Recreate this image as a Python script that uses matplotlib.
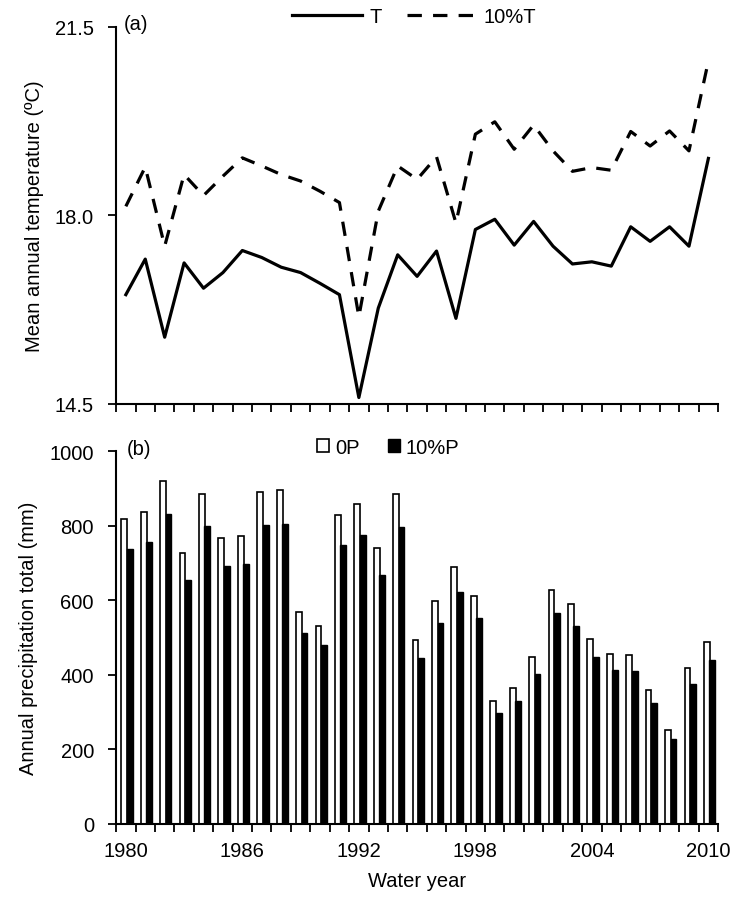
import matplotlib.pyplot as plt
import numpy as np

plt.rcParams['font.family'] = ['Liberation Sans', 'DejaVu Sans']

# water years
years = list(range(1980, 2011))

# mean annual temperature (deg C)
temp_T = [16.53, 17.19, 15.74, 17.12, 16.65, 16.94, 17.35, 17.22, 17.04, 16.94,
          16.74, 16.53, 14.62, 16.28, 17.27, 16.87, 17.34, 16.09, 17.74, 17.93,
          17.45, 17.89, 17.43, 17.10, 17.14, 17.06, 17.79, 17.52, 17.79, 17.43,
          19.06]
temp_10T = [18.17, 18.90, 17.43, 18.76, 18.37, 18.73, 19.07, 18.92, 18.76, 18.64,
            18.45, 18.24, 16.12, 18.08, 18.92, 18.67, 19.09, 17.86, 19.51, 19.74,
            19.23, 19.68, 19.20, 18.82, 18.89, 18.84, 19.56, 19.29, 19.57, 19.20,
            20.87]

# annual precipitation total (mm)
precip_0P = [819, 837, 921, 726, 886, 767, 772, 890, 895, 569,
             531, 829, 858, 740, 884, 493, 598, 688, 612, 329,
             365, 447, 628, 589, 497, 456, 454, 360, 253, 417,
             487]
precip_10P = [738, 755, 830, 654, 799, 692, 696, 802, 805, 512,
              480, 747, 774, 668, 797, 444, 540, 621, 552, 297,
              329, 402, 566, 531, 448, 412, 409, 324, 228, 375,
              440]

year_labels = ['1980', '1986', '1992', '1998', '2004', '2010']

fs = 14.5
x = np.arange(len(years))
bounds = np.arange(len(years) + 1) - 0.5

fig = plt.figure(figsize=(7.35, 9.03), dpi=100)
ax1 = fig.add_axes([0.158, 0.5515, 0.819, 0.4175])
ax2 = fig.add_axes([0.158, 0.0864, 0.819, 0.4130])

# (a) temperature
ax1.plot(x, temp_T, color='black', lw=2.3, label='T')
ax1.plot(x, temp_10T, color='black', lw=2.3, ls=(0, (4.5, 3.5)), label='10%T')
ax1.set_xlim(-0.5, len(years) - 0.5)
ax1.set_ylim(14.5, 21.5)
ax1.set_yticks([14.5, 18.0, 21.5])
ax1.set_yticklabels(['14.5', '18.0', '21.5'])
ax1.set_xticks(bounds)
ax1.set_xticklabels([])
ax1.set_ylabel('Mean annual temperature (ºC)', fontsize=fs, labelpad=8)
ax1.text(0.012, 1.01, '(a)', transform=ax1.transAxes, fontsize=fs, va='center')
ax1.legend(loc='center', bbox_to_anchor=(0.495, 1.027), ncol=2, frameon=False,
           fontsize=fs, handlelength=3.45, handletextpad=0.35, columnspacing=1.25)

# (b) precipitation
w = 0.3
ax2.bar(x - 0.08, precip_0P, width=w, color='white', edgecolor='black', lw=1.2, label='0P')
ax2.bar(x + 0.2, precip_10P, width=w, color='black', edgecolor='black', lw=1.0, label='10%P')
ax2.set_xlim(-0.5, len(years) - 0.5)
ax2.set_ylim(0, 1000)
ax2.set_yticks(range(0, 1001, 200))
ax2.set_xticks([years.index(int(y)) for y in year_labels])
ax2.set_xticklabels(year_labels)
ax2.set_xticks(bounds, minor=True)
ax2.tick_params(axis='x', which='major', length=0, pad=12)
ax2.tick_params(axis='x', which='minor', direction='out', length=6, width=1.3)
ax2.set_xlabel('Water year', fontsize=fs, labelpad=8)
ax2.set_ylabel('Annual precipitation total (mm)', fontsize=fs, labelpad=8)
ax2.text(0.018, 1.008, '(b)', transform=ax2.transAxes, fontsize=fs, va='center')
ax2.legend(loc='center', bbox_to_anchor=(0.452, 1.01), ncol=2, frameon=False,
           fontsize=fs, handlelength=0.6, handleheight=0.6, handletextpad=0.3,
           columnspacing=1.4)

for ax in (ax1, ax2):
    for s in ('top', 'right'):
        ax.spines[s].set_visible(False)
    for s in ('left', 'bottom'):
        ax.spines[s].set_linewidth(1.5)
    ax.tick_params(axis='y', direction='out', length=6, width=1.3, labelsize=fs, pad=10)
    ax.tick_params(axis='x', labelsize=fs)
ax1.tick_params(axis='x', direction='out', length=6, width=1.3)

fig.savefig('out.png', dpi=100)
